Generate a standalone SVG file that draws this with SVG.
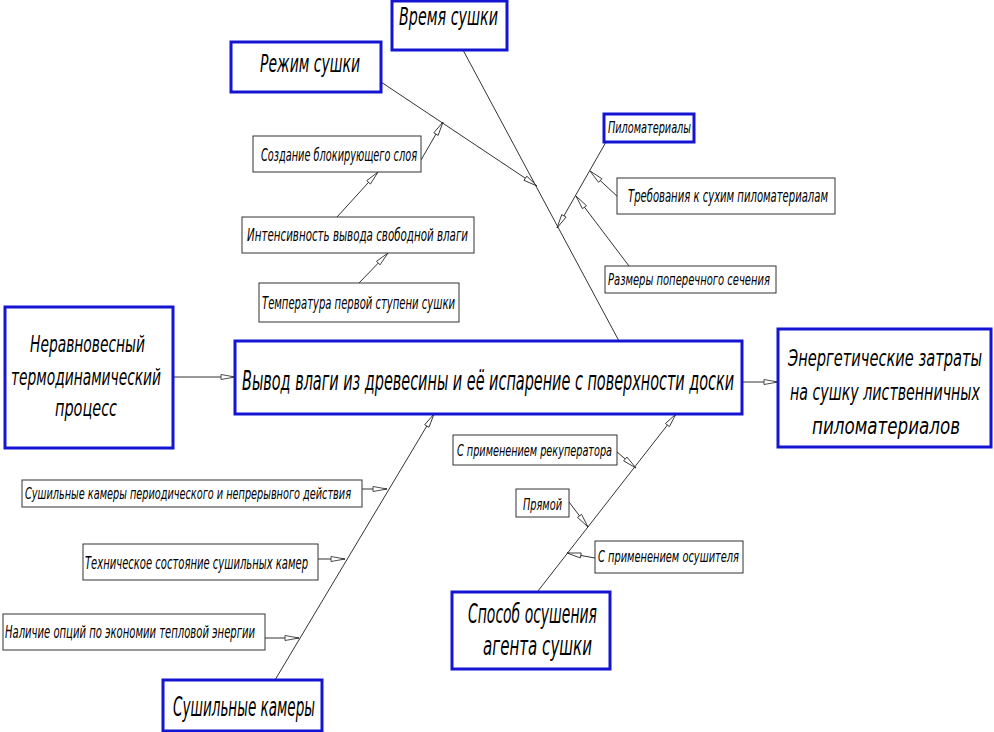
<svg xmlns="http://www.w3.org/2000/svg" width="994" height="732" viewBox="0 0 994 732">
<defs>
<marker id="ar" markerUnits="userSpaceOnUse" markerWidth="16" markerHeight="8" refX="15" refY="4" orient="auto">
<path d="M1,1.5 L15,4 L1,6.5 Z" fill="#fff" stroke="#222" stroke-width="0.8"/>
</marker>
</defs>
<style>
.bb{fill:#fff;stroke:#1414d2;stroke-width:3}
.gb{fill:#fff;stroke:#333;stroke-width:1}
.t{font-family:"Liberation Sans Narrow","DejaVu Sans Condensed","Liberation Sans",Arial,sans-serif;font-stretch:condensed;font-style:italic;fill:#000}
.c{fill:none;stroke:#333;stroke-width:1}
.a{marker-end:url(#ar)}
</style>
<rect width="994" height="732" fill="#fff"/>
<g id="connectors">
<line class="c" x1="463" y1="50" x2="619" y2="341"/>
<line class="c a" x1="381" y1="82" x2="537" y2="186"/>
<line class="c a" x1="421" y1="160" x2="443" y2="122"/>
<line class="c a" x1="337" y1="217" x2="378" y2="172"/>
<line class="c a" x1="359" y1="283" x2="388" y2="253"/>
<line class="c a" x1="606" y1="142" x2="557" y2="228"/>
<line class="c a" x1="619" y1="198" x2="590" y2="171"/>
<line class="c a" x1="629" y1="266" x2="576" y2="196"/>
<line class="c a" x1="173" y1="377" x2="235" y2="377"/>
<line class="c a" x1="742" y1="382" x2="778" y2="382"/>
<line class="c a" x1="275" y1="680" x2="434" y2="414"/>
<line class="c a" x1="362" y1="489" x2="387" y2="489"/>
<line class="c a" x1="318" y1="559" x2="345" y2="559"/>
<line class="c a" x1="265" y1="638" x2="299" y2="638"/>
<line class="c a" x1="538" y1="591" x2="676" y2="414"/>
<line class="c a" x1="617" y1="452" x2="636" y2="468"/>
<line class="c a" x1="569" y1="502" x2="588" y2="527"/>
<line class="c a" x1="595" y1="558" x2="567" y2="553"/>
</g>
<g id="vremya">
<rect class="bb" x="392" y="1" width="115" height="49"/>
<text class="t" x="399" y="25" font-size="24" textLength="99" lengthAdjust="spacingAndGlyphs">Время сушки</text>
</g>
<g id="rezhim">
<rect class="bb" x="231" y="42" width="150" height="50"/>
<text class="t" x="260" y="72" font-size="24" textLength="100" lengthAdjust="spacingAndGlyphs">Режим сушки</text>
</g>
<g id="sozdanie">
<rect class="gb" x="253" y="136" width="168" height="36"/>
<text class="t" x="261" y="161" font-size="17" textLength="156" lengthAdjust="spacingAndGlyphs">Создание блокирующего слоя</text>
</g>
<g id="intensivnost">
<rect class="gb" x="242" y="217" width="232" height="36"/>
<text class="t" x="247" y="241" font-size="17" textLength="221" lengthAdjust="spacingAndGlyphs">Интенсивность вывода свободной влаги</text>
</g>
<g id="temperatura">
<rect class="gb" x="259" y="283" width="200" height="39"/>
<text class="t" x="262" y="309" font-size="17" textLength="193" lengthAdjust="spacingAndGlyphs">Температура первой ступени сушки</text>
</g>
<g id="pilomaterialy">
<rect class="bb" x="604" y="114" width="90" height="28" stroke-width="2"/>
<text class="t" x="608" y="133" font-size="15" textLength="83" lengthAdjust="spacingAndGlyphs">Пиломатериалы</text>
</g>
<g id="trebovaniya">
<rect class="gb" x="617" y="178" width="218" height="36"/>
<text class="t" x="628" y="202" font-size="17" textLength="200" lengthAdjust="spacingAndGlyphs">Требования к  сухим пиломатериалам</text>
</g>
<g id="razmery">
<rect class="gb" x="605" y="266" width="171" height="27"/>
<text class="t" x="608" y="285" font-size="15" textLength="162" lengthAdjust="spacingAndGlyphs">Размеры поперечного сечения</text>
</g>
<g id="neravnovesny">
<rect class="bb" x="5" y="307" width="168" height="141"/>
<text class="t" x="30" y="352" font-size="23" textLength="115" lengthAdjust="spacingAndGlyphs">Неравновесный</text>
<text class="t" x="11" y="385" font-size="23" textLength="150" lengthAdjust="spacingAndGlyphs">термодинамический</text>
<text class="t" x="55" y="416" font-size="23" textLength="62" lengthAdjust="spacingAndGlyphs">процесс</text>
</g>
<g id="vyvod">
<rect class="bb" x="235" y="341" width="507" height="73"/>
<text class="t" transform="translate(242,390) scale(1,1.55)" x="0" y="0" font-size="17" textLength="492" lengthAdjust="spacingAndGlyphs">Вывод влаги из древесины и её испарение с поверхности доски</text>
</g>
<g id="energeticheskie">
<rect class="bb" x="778" y="329" width="213" height="118"/>
<text class="t" transform="translate(788,366) scale(1,1.4)" x="0" y="0" font-size="16.5" textLength="194" lengthAdjust="spacingAndGlyphs">Энергетические затраты</text>
<text class="t" transform="translate(790,400) scale(1,1.4)" x="0" y="0" font-size="16.5" textLength="190" lengthAdjust="spacingAndGlyphs">на сушку лиственничных</text>
<text class="t" transform="translate(812,434) scale(1,1.4)" x="0" y="0" font-size="16.5" textLength="148" lengthAdjust="spacingAndGlyphs">пиломатериалов</text>
</g>
<g id="kamery-period">
<rect class="gb" x="22" y="480" width="340" height="27"/>
<text class="t" x="25" y="499" font-size="16" textLength="326" lengthAdjust="spacingAndGlyphs">Сушильные камеры периодического и непрерывного действия</text>
</g>
<g id="tehnicheskoe">
<rect class="gb" x="83" y="544" width="235" height="36"/>
<text class="t" x="85" y="569" font-size="17" textLength="223" lengthAdjust="spacingAndGlyphs">Техническое состояние сушильных камер</text>
</g>
<g id="nalichie">
<rect class="gb" x="3" y="614" width="262" height="36"/>
<text class="t" x="5" y="638" font-size="17" textLength="250" lengthAdjust="spacingAndGlyphs">Наличие опций по экономии тепловой энергии</text>
</g>
<g id="sushilnye-kamery">
<rect class="bb" x="163" y="680" width="159" height="51"/>
<text class="t" x="173" y="716" font-size="26" textLength="142" lengthAdjust="spacingAndGlyphs">Сушильные камеры</text>
</g>
<g id="rekuperator">
<rect class="gb" x="453" y="435" width="164" height="30"/>
<text class="t" x="457" y="456" font-size="15" textLength="155" lengthAdjust="spacingAndGlyphs">С применением рекуператора</text>
</g>
<g id="pryamoy">
<rect class="gb" x="516" y="489" width="53" height="28"/>
<text class="t" x="523" y="510" font-size="15" textLength="39" lengthAdjust="spacingAndGlyphs">Прямой</text>
</g>
<g id="osushitel">
<rect class="gb" x="595" y="541" width="148" height="32"/>
<text class="t" x="598" y="562" font-size="15" textLength="141" lengthAdjust="spacingAndGlyphs">С применением осушителя</text>
</g>
<g id="sposob">
<rect class="bb" x="452" y="592" width="158" height="77"/>
<text class="t" x="468" y="623" font-size="26" textLength="129" lengthAdjust="spacingAndGlyphs">Способ осушения</text>
<text class="t" x="483" y="655" font-size="26" textLength="109" lengthAdjust="spacingAndGlyphs">агента сушки</text>
</g>
</svg>
